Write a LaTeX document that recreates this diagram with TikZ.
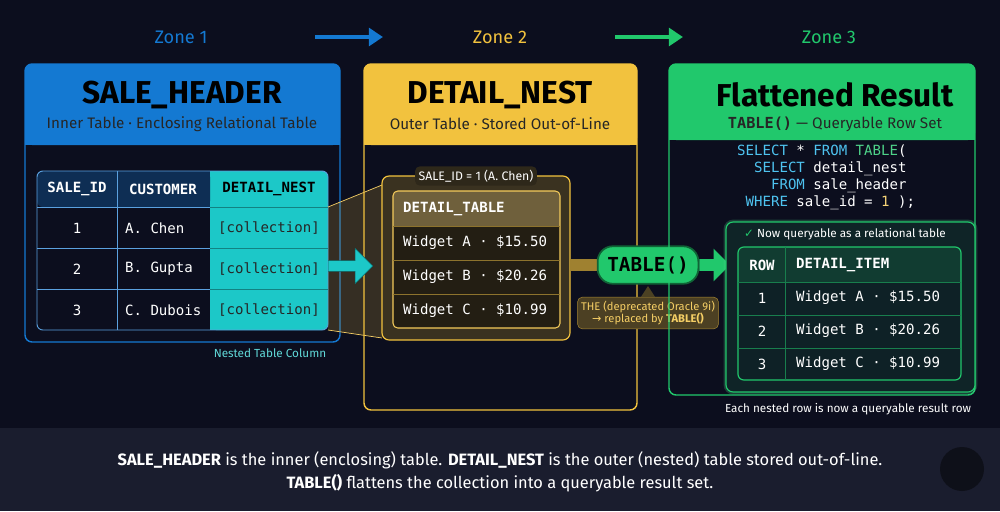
\documentclass[tikz,border=0pt]{standalone}
\usepackage{fontspec}
\setmainfont{Fira Sans}
\setsansfont{Fira Sans}
\setmonofont{DejaVu Sans Mono}
\newfontfamily\symf{DejaVu Sans}
\usetikzlibrary{positioning, shapes.arrows, arrows.meta}
\definecolor{bgnavy}{HTML}{0C0E1E}
\definecolor{bandnavy}{HTML}{1A1D2E}
\definecolor{zblue}{HTML}{1479D2}
\definecolor{zyellow}{HTML}{F2C23E}
\definecolor{zgreen}{HTML}{21C86C}
\definecolor{zcyan}{HTML}{1CC8C8}
\definecolor{nestbrown}{HTML}{3A3220}
\definecolor{sqlblue}{HTML}{4EC3F0}

\begin{document}
\begin{tikzpicture}[x=0.3mm, y=-0.3mm,
    panel/.style={draw=#1, line width=1.2pt, rounded corners=6pt},
    cell/.style={font=\ttfamily\fontsize{12}{14}\selectfont, text=white},
    hcell/.style={font=\ttfamily\bfseries\fontsize{12}{14}\selectfont, text=white},
    title/.style={font=\bfseries\fontsize{27}{30}\selectfont, text=black},
    subtitle/.style={font=\fontsize{13}{15}\selectfont, text=black!85},
    zone/.style={font=\fontsize{15.5}{18}\selectfont\mdseries, text=#1},
    note/.style={font=\fontsize{10}{12}\selectfont, text=#1}
  ]
  % background
  \fill[bgnavy] (0,0) rectangle (1000,511);
  \fill[bandnavy] (0,428) rectangle (1000,511);
  \fill[black!45!bandnavy] (962,469) circle (22);

  % -- zone labels --
  \node[zone=zblue] (z1) at (181,37) {Zone 1};
  \node[zone=zyellow] (z2) at (500,37) {Zone 2};
  \node[zone=zgreen] (z3) at (829,37) {Zone 3};
  \coordinate (a1s) at (315,37); \coordinate (a1e) at (383,37);
  \coordinate (a2s) at (615,37); \coordinate (a2e) at (683,37);
  \draw[zblue, line width=3.5pt, -{Triangle[length=12pt,width=15pt]}] (a1s) -- (a1e);
  \draw[zgreen, line width=3.5pt, -{Triangle[length=12pt,width=15pt]}] (a2s) -- (a2e);

  % -- 1. SALE_HEADER panel --
  \fill[zblue, rounded corners=6pt] (25,64) rectangle (340,145);
  \fill[zblue] (25,120) rectangle (340,145);
  \draw[panel=zblue] (25,64) rectangle (340,342);
  \node[title] (t1) at (182,95) {SALE\_HEADER};
  \node[subtitle] (s1) at (182,124) {Inner Table · Enclosing Relational Table};

  \fill[zcyan, rounded corners=5pt] (210,171) rectangle (328,330);
  \fill[zcyan] (210,171) rectangle (250,330);
  \fill[zblue!30!bgnavy, rounded corners=5pt] (37,171) rectangle (210,207);
  \fill[zblue!30!bgnavy] (150,171) rectangle (210,207);
  \draw[zblue!70, line width=0.8pt, rounded corners=5pt] (37,171) rectangle (328,330);
  \foreach \yy in {207,248,289} {
    \draw[zblue!70, line width=0.8pt] (37,\yy) -- (210,\yy);
    \draw[black!35!zcyan, line width=0.8pt] (210,\yy) -- (328,\yy);
  }
  \draw[zblue!70, line width=0.8pt] (117,171) -- (117,330);
  \node[hcell] (h11) at (77,189) {SALE\_ID};
  \node[hcell] (h12) at (163,189) {CUSTOMER};
  \node[hcell, text=black] (h13) at (269,189) {DETAIL\_NEST};
  \foreach \n/\c/\yy in {1/A. Chen/228, 2/B. Gupta/269, 3/C. Dubois/310} {
    \node[cell] at (77,\yy) {\n};
    \node[cell, anchor=west] at (121,\yy) {\c};
    \node[cell, text=black!85] at (269,\yy) {[collection]};
  }
  \node[note=zcyan!70!white] (ntc) at (270,353) {Nested Table Column};

  % funnel to nest
  \fill[zyellow, opacity=0.18] (328,207) -- (382,185) -- (382,338) -- (328,330) -- cycle;
  \draw[zyellow!80, line width=0.6pt] (328,207) -- (382,185) (328,330) -- (382,338);

  % -- 2. DETAIL_NEST panel --
  \fill[zyellow, rounded corners=6pt] (364,64) rectangle (637,145);
  \fill[zyellow] (364,120) rectangle (637,145);
  \draw[panel=zyellow] (364,64) rectangle (637,410);
  \node[title] (t2) at (500,95) {DETAIL\_NEST};
  \node[subtitle] (s2) at (500,124) {Outer Table · Stored Out-of-Line};

  \draw[zyellow, fill=nestbrown, line width=1pt, rounded corners=6pt] (382,176) rectangle (570,340);
  \node[fill=nestbrown!80!black, rounded corners=4pt, inner sep=3pt, text=white!85,
    font=\fontsize{10.5}{12}\selectfont] (sid) at (476,176) {SALE\_ID = 1 (A. Chen)};
  \fill[nestbrown!60!black, rounded corners=4pt] (393,191) rectangle (560,328);
  \fill[nestbrown!80!zyellow!90, rounded corners=4pt] (393,191) rectangle (560,226);
  \fill[nestbrown!80!zyellow!90] (393,210) rectangle (560,226);
  \draw[zyellow!85, line width=0.9pt, rounded corners=4pt] (393,191) rectangle (560,328);
  \foreach \yy in {226,260,294} \draw[zyellow!45!nestbrown, line width=0.8pt] (393,\yy) -- (560,\yy);
  \node[hcell, anchor=west] (dt) at (399,209) {DETAIL\_TABLE};
  \foreach \w/\p/\yy in {A/15.50/243, B/20.26/277, C/10.99/311}
    \node[cell, anchor=west] at (399,\yy) {Widget \w\ · \$\p};

  % cyan arrow into nest
  \node[single arrow, fill=zcyan, draw=black!50!zcyan, minimum height=38pt,
    minimum width=30pt, single arrow head extend=5pt, inner sep=2pt, anchor=west] (carr) at (328,266) {};

  % TABLE() pill
  \fill[zyellow!55!nestbrown] (570,259) rectangle (600,271);
  \node[fill=zgreen, draw=zgreen!50!black, line width=1.5pt, rounded corners=13pt,
    minimum width=86pt, minimum height=32pt,
    font=\ttfamily\bfseries\fontsize{16.5}{18}\selectfont] (pill) at (648,265) {TABLE()};
  \node[fill=zgreen, single arrow, minimum height=26pt, minimum width=28pt,
    single arrow head extend=4pt, inner sep=2pt, anchor=west] (garr) at (pill.east) {};
  \node[fill=nestbrown!90!zyellow, draw=zyellow!60!nestbrown, rounded corners=4pt,
    inner sep=3pt, align=center, text=zyellow!80!white, font=\fontsize{9.5}{11}\selectfont] (the) at (648,313)
    {THE (deprecated Oracle 9i)\\{\symf →} replaced by \textbf{TABLE()}};
  \fill[nestbrown!90!zyellow] ([xshift=-6pt]the.north) -- (648,286) -- ([xshift=6pt]the.north) -- cycle;

  % -- 3. Flattened Result panel --
  \fill[zgreen, rounded corners=6pt] (669,64) rectangle (975,140);
  \fill[zgreen] (669,115) rectangle (975,140);
  \draw[panel=zgreen] (669,64) rectangle (975,395);
  \node[title] (t3) at (835,95) {Flattened Result};
  \node[subtitle] (s3) at (835,124) {\ttfamily\bfseries TABLE()\rmfamily\mdseries{} — Queryable Row Set};
  \node[anchor=north west, align=left, inner sep=0pt, font=\ttfamily\fontsize{12}{14.5}\selectfont, text=white] (sql) at (737,145)
    {\textcolor{sqlblue}{SELECT} * \textcolor{sqlblue}{FROM} \textcolor{zgreen!80!white}{TABLE}(\\
     \ \ \textcolor{sqlblue}{SELECT} detail\_nest\\
     \ \ \ \ \textcolor{sqlblue}{FROM} sale\_header\\
     \ \textcolor{sqlblue}{WHERE} sale\_id = \textcolor{zyellow!70!white}{1} );};

  \draw[zgreen!80, line width=4pt, opacity=0.25, rounded corners=6pt] (726,222) rectangle (975,392);
  \draw[zgreen, fill=zgreen!12!bgnavy, line width=1pt, rounded corners=6pt] (726,222) rectangle (975,392);
  \node[text=white!90, font=\fontsize{10}{12}\selectfont] (chk) at (845,234)
    {{\symf\textcolor{zgreen}{✓}} Now queryable as a relational table};
  \fill[zgreen!10!bgnavy, rounded corners=5pt] (738,247) rectangle (961,380);
  \fill[zgreen!25!bgnavy, rounded corners=5pt] (738,247) rectangle (961,282);
  \fill[zgreen!25!bgnavy] (738,265) rectangle (961,282);
  \draw[zgreen, line width=1pt, rounded corners=5pt] (738,247) rectangle (961,380);
  \foreach \yy in {282,315,348} \draw[zgreen!60!bgnavy, line width=0.8pt] (738,\yy) -- (961,\yy);
  \draw[zgreen!60!bgnavy, line width=0.8pt] (785,247) -- (785,380);
  \node[hcell] (hr) at (762,265) {ROW};
  \node[hcell, anchor=west] (hd) at (792,265) {DETAIL\_ITEM};
  \foreach \n/\w/\p/\yy in {1/A/15.50/298, 2/B/20.26/331, 3/C/10.99/364} {
    \node[cell] at (762,\yy) {\n};
    \node[cell, anchor=west] at (792,\yy) {Widget \w\ · \$\p};
  }
  \node[note=white!85] (each) at (848,409) {Each nested row is now a queryable result row};

  % -- caption --
  \node[align=center, text=white, font=\fontsize{14}{20}\selectfont] (cap) at (500,472)
    {\textbf{SALE\_HEADER} is the inner (enclosing) table. \textbf{DETAIL\_NEST} is the outer (nested) table stored out-of-line.\\
     \textbf{TABLE()} flattens the collection into a queryable result set.};
\end{tikzpicture}
\end{document}
